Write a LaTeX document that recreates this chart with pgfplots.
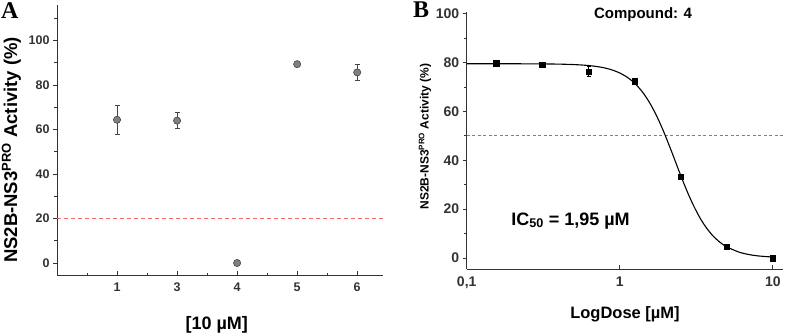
\documentclass[border=0pt]{standalone}
\usepackage{fontspec}
\setmainfont{Liberation Sans}
\newfontfamily\serifbf{Liberation Serif}
\usepackage{pgfplots}
\pgfplotsset{compat=1.18}
\definecolor{markgray}{HTML}{808080}
\definecolor{edgegray}{HTML}{454545}
\definecolor{axgray}{HTML}{333333}
\definecolor{reddash}{HTML}{F06A6A}
\begin{document}
\begin{tikzpicture}
\path[use as bounding box] (0pt,0pt) rectangle (787pt,-334pt);
\node[anchor=north west,inner sep=0pt,font=\serifbf\bfseries\fontsize{24}{24}\selectfont] at (1pt,-2pt) {A};
\node[anchor=north west,inner sep=0pt,font=\serifbf\bfseries\fontsize{24}{24}\selectfont] at (413pt,-2pt) {B};
% Panel A
\begin{axis}[
  at={(57pt,-275pt)}, anchor=south west,
  scale only axis, width=326pt, height=270pt,
  xmin=0, xmax=5.43, ymin=-5.4, ymax=116,
  axis x line*=bottom, axis y line*=left,
  axis line style={axgray, line width=0.9pt},
  every tick/.style={axgray, line width=0.8pt},
  xtick={1,2,3,4,5}, xticklabels={1,3,4,5,6},
  minor xtick={0.5,1.5,2.5,3.5,4.5},
  tick align=inside,
  ytick={0,20,40,60,80,100},
  minor ytick={10,30,50,70,90,110},
  major tick length=4pt, minor tick length=2.5pt,
  major y tick style={xshift=-4pt},
  minor y tick style={xshift=-2.5pt},
  /pgf/number format/assume math mode=true,
  tick label style={font=\bfseries\fontsize{12.5}{13}\selectfont, text=axgray},
  xticklabel style={yshift=-4pt},
  yticklabel style={xshift=-4pt},
  xlabel={[10 µM]},
  ylabel={NS2B-NS3\textsuperscript{PRO} Activity (\%)},
  xlabel style={font=\bfseries\fontsize{18}{18}\selectfont, at={(axis description cs:0.49,-0.185)}, anchor=center},
  ylabel style={font=\bfseries\fontsize{18.5}{18.5}\selectfont, at={(axis description cs:-0.14,0.463)}, anchor=center},
  clip=false,
]
\addplot[reddash, line width=1pt, dash pattern=on 4pt off 3pt] coordinates {(0,20) (5.43,20)};
\addplot[only marks, mark=*, mark size=3.6pt, mark options={fill=markgray, draw=edgegray, line width=0.6pt},
  error bars/.cd, y dir=both, y explicit, error mark=|,
  error bar style={edgegray, line width=0.8pt},
  error mark options={mark size=2.5pt, edgegray, line width=0.8pt}]
table[x=x, y=y, y error=e] {
x y e
1 64.4 6.6
2 64.0 3.5
3 0.0 0.5
4 89.4 1.0
5 85.7 3.7
};
\end{axis}
% Panel B
\begin{axis}[
  at={(466.7pt,-269.3pt)}, anchor=south west,
  scale only axis, width=316.6pt, height=257.6pt,
  xmode=log, log basis x=10,
  xmin=0.1, xmax=11.7, ymin=-4.6, ymax=100.8,
  axis x line*=bottom, axis y line*=left,
  axis line style={axgray, line width=0.9pt},
  every tick/.style={axgray, line width=0.8pt},
  xtick={0.1,1,10}, xticklabels={{0,1},1,10},
  tick align=inside,
  ytick={0,20,40,60,80,100},
  minor ytick={10,30,50,70,90},
  major tick length=4pt, minor tick length=2.5pt,
  major y tick style={xshift=-4pt},
  minor y tick style={xshift=-2.5pt},
  /pgf/number format/assume math mode=true,
  tick label style={font=\bfseries\fontsize{14}{14}\selectfont, text=axgray},
  xticklabel style={yshift=-4pt},
  yticklabel style={xshift=-4pt},
  xlabel={LogDose [µM]},
  ylabel={NS2B-NS3\textsuperscript{PRO} Activity (\%)},
  xlabel style={font=\bfseries\fontsize{16.5}{16.5}\selectfont, at={(axis description cs:0.5,-0.174)}, anchor=center},
  ylabel style={font=\bfseries\fontsize{12}{12}\selectfont, at={(axis description cs:-0.132,0.515)}, anchor=center},
  clip=false,
]
\addplot[gray, line width=0.9pt, dash pattern=on 3pt off 2.5pt] coordinates {(0.1,50.3) (11.7,50.3)};
\addplot[black, line width=1.1pt, smooth] coordinates {
(0.1,79.50) (0.2,79.49) (0.3,79.45) (0.4,79.35) (0.5,79.17) (0.6,78.87) (0.7,78.42)
(0.8,77.77) (0.9,76.88) (1.0,75.72) (1.1,74.28) (1.2,72.53) (1.3,70.47) (1.4,68.09)
(1.5,65.45) (1.6,62.55) (1.7,59.47) (1.8,56.23) (1.9,52.90) (2.0,49.55) (2.2,42.93)
(2.4,36.70) (2.6,31.11) (2.8,26.24) (3.0,22.07) (3.3,17.03) (3.6,13.21) (4.0,9.54)
(4.5,6.52) (5.0,4.58) (6.0,2.44) (7.0,1.42) (8.0,0.88) (10.0,0.40)
};
\addplot[only marks, mark=square*, mark size=2.8pt, black,
  error bars/.cd, y dir=both, y explicit, error mark=|,
  error bar style={black, line width=0.8pt},
  error mark options={mark size=2pt, black, line width=0.8pt}]
table[x=x, y=y, y error=e] {
x y e
0.15625 79.7 0.6
0.3125 79.1 0.8
0.625 76.3 2.0
1.25 72.4 1.2
2.5 33.3 0.8
5 4.6 0.6
10 0.0 0.4
};
\node[anchor=west, font=\bfseries\fontsize{18}{18}\selectfont, inner sep=0pt] at (axis cs:0.195,15.3) {IC\textsubscript{50} = 1,95 µM};
\node[anchor=center, font=\bfseries\fontsize{15}{15}\selectfont, inner sep=0pt] at (axis description cs:0.557,0.99) {Compound: 4};
\end{axis}
\end{tikzpicture}
\end{document}
